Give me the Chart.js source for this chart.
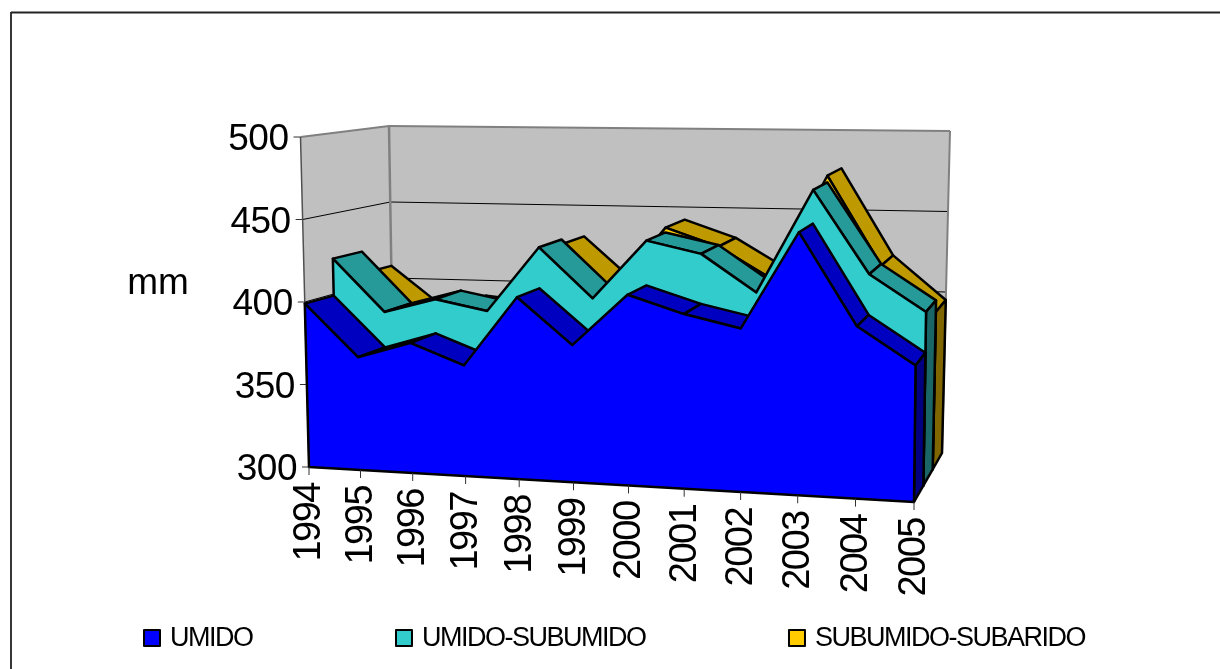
<!DOCTYPE html>
<html>
<head>
<meta charset="utf-8">
<style>html,body{margin:0;padding:0;background:#fff}canvas{display:block}</style>
<script src="https://cdn.jsdelivr.net/npm/chart.js@4/dist/chart.umd.min.js"></script>
</head>
<body>
<canvas id="c" width="1220" height="669"></canvas>
<script>
// Annual rainfall (mm) by climate zone
const years = ['1994','1995','1996','1997','1998','1999','2000','2001','2002','2003','2004','2005'];
const umido = [399,368,378,366,408,381,412,402,395,452,399,378];
const umidoSubumido = [422,390,399,393,433,403,439,432,410,472,423,402];
const subumidoSubarido = [408,384,390,387,430,402,442,431,412,476,422,395];
const valueTicks = [300,350,400,450,500];

const FONT = '"Liberation Sans", Arial, sans-serif';
const OUTLINE = '#000';
const OUTLINE_WIDTH = 2.5;
const WALL = '#c0c0c0';
const WALL_EDGE = '#808080';

// Screen corners of the plot box, indexed [depth][value][year]
const BOX = [
  [[[309,467],[914,502]], [[300.5,137],[918,152]]],
  [[[394,430],[942,453]], [[389,126],[950,131]]]
];
const FORESHORTEN = 0.07;
const lerp = (a,b,k) => a + (b-a)*k;

// Maps a position in the unit box (year, value, depth) onto the canvas
function project(u, t, d) {
  const s = u - FORESHORTEN*u*(1-u);
  const along = (dd,tt) => [0,1].map(i => lerp(BOX[dd][tt][0][i], BOX[dd][tt][1][i], s));
  const lo = [0,1].map(i => lerp(along(0,0)[i], along(1,0)[i], d));
  const hi = [0,1].map(i => lerp(along(0,1)[i], along(1,1)[i], d));
  return [lerp(lo[0],hi[0],t), lerp(lo[1],hi[1],t)];
}

function poly(ctx, pts, fill, stroke, width) {
  ctx.beginPath();
  pts.forEach((p,i) => i ? ctx.lineTo(p[0],p[1]) : ctx.moveTo(p[0],p[1]));
  ctx.closePath();
  if (fill) { ctx.fillStyle = fill; ctx.fill(); }
  if (stroke) { ctx.strokeStyle = stroke; ctx.lineWidth = width; ctx.stroke(); }
}

function segment(ctx, a, b, color, width) {
  ctx.beginPath();
  ctx.moveTo(a[0],a[1]);
  ctx.lineTo(b[0],b[1]);
  ctx.strokeStyle = color;
  ctx.lineWidth = width;
  ctx.stroke();
}

// Shoelace sum: negative when a top strip faces the viewer
function facesViewer(q) {
  let sum = 0;
  q.forEach((p,i) => { const n = q[(i+1)%q.length]; sum += p[0]*n[1] - n[0]*p[1]; });
  return sum < 0;
}

const box3d = {
  id: 'box3d',
  beforeDatasetsDraw(chart) {
    const ctx = chart.ctx, y = chart.scales.y, area = chart.chartArea;
    const tOf = v => (area.bottom - y.getPixelForValue(v)) / (area.bottom - area.top);
    ctx.save();
    ctx.lineJoin = 'round';

    // frame of the chart object
    segment(ctx, [11,12.5], [1220,12.5], '#222', 1.8);
    segment(ctx, [11,12], [11,669], '#222', 1.8);

    // side and back walls
    poly(ctx, [project(0,0,0),project(0,1,0),project(0,1,1),project(0,0,1)], WALL);
    poly(ctx, [project(0,0,1),project(0,1,1),project(1,1,1),project(1,0,1)], WALL);

    // gridlines running around the walls
    y.ticks.forEach(tk => {
      const t = tOf(tk.value);
      if (t <= 0 || t >= 1) return;
      segment(ctx, project(0,t,0), project(0,t,1), '#000', 1);
      segment(ctx, project(0,t,1), project(1,t,1), '#000', 1);
    });
    segment(ctx, project(0,1,0), project(0,1,1), WALL_EDGE, 2);
    segment(ctx, project(0,1,1), project(1,1,1), WALL_EDGE, 2);
    segment(ctx, project(0,1,1), project(0,0,1), WALL_EDGE, 2.5);
    segment(ctx, project(1,1,1), project(1,0,1), WALL_EDGE, 2);
    segment(ctx, project(0,1,0), project(0,0,0), '#505050', 1.5);

    // value axis: ticks and labels follow the leaning front edge
    ctx.font = '37px ' + FONT;
    ctx.letterSpacing = '-0.5px';
    ctx.textAlign = 'right';
    ctx.textBaseline = 'middle';
    ctx.fillStyle = '#000';
    y.ticks.forEach(tk => {
      const p = project(0, tOf(tk.value), 0);
      segment(ctx, [p[0]-7,p[1]], p, '#333', 1);
      ctx.fillText(String(tk.value), p[0]-12, p[1]+3);
    });
    ctx.textAlign = 'center';
    ctx.letterSpacing = '0px';
    ctx.fillText('mm', 158, 284);

    // series, back to front: top strips, end panel, then the front face
    const n = chart.data.datasets.length;
    for (let i = n-1; i >= 0; i--) {
      const ds = chart.data.datasets[i];
      const pts = chart.getDatasetMeta(i).data;
      const d0 = i/n, d1 = (i+1)/n;
      const us = pts.map(pt => (pt.x - area.left)/(area.right - area.left));
      const ts = pts.map(pt => (area.bottom - pt.y)/(area.bottom - area.top));
      for (let k = 0; k < pts.length-1; k++) {
        const q = [project(us[k],ts[k],d0), project(us[k+1],ts[k+1],d0),
                   project(us[k+1],ts[k+1],d1), project(us[k],ts[k],d1)];
        if (facesViewer(q)) poly(ctx, q, ds.stripColor, OUTLINE, OUTLINE_WIDTH);
      }
      const last = pts.length-1;
      poly(ctx, [project(1,0,d0),project(1,ts[last],d0),project(1,ts[last],d1),project(1,0,d1)],
           ds.endColor, OUTLINE, OUTLINE_WIDTH);
      const front = us.map((u,k) => project(u,ts[k],d0));
      front.push(project(1,0,d0), project(0,0,d0));
      poly(ctx, front, ds.backgroundColor, OUTLINE, OUTLINE_WIDTH);
    }

    // year labels and ticks hang below the sloping baseline
    const x = chart.scales.x;
    ctx.font = '38px ' + FONT;
    ctx.letterSpacing = '-1.5px';
    ctx.textAlign = 'right';
    ctx.textBaseline = 'middle';
    ctx.fillStyle = '#000';
    years.forEach((label,k) => {
      const u = (x.getPixelForValue(k) - area.left)/(area.right - area.left);
      const p = project(u,0,0);
      segment(ctx, p, [p[0],p[1]+8], '#333', 1);
      ctx.save();
      ctx.translate(p[0]+1, p[1]+16);
      ctx.rotate(-Math.PI/2);
      ctx.fillText(label, 0, 0);
      ctx.restore();
    });

    // legend row
    ctx.font = '27px ' + FONT;
    ctx.letterSpacing = '-1.5px';
    ctx.textAlign = 'left';
    let cursor = 144;
    chart.data.datasets.forEach(ds => {
      ctx.fillStyle = ds.backgroundColor;
      ctx.strokeStyle = OUTLINE;
      ctx.lineWidth = 2;
      ctx.fillRect(cursor, 630, 16, 16);
      ctx.strokeRect(cursor, 630, 16, 16);
      ctx.fillStyle = '#000';
      ctx.fillText(ds.label, cursor+26, 639);
      cursor += 26 + ctx.measureText(ds.label).width + 143.5;
    });
    ctx.restore();
  }
};

new Chart(document.getElementById('c'), {
  type: 'line',
  plugins: [box3d],
  data: {
    labels: years,
    datasets: [
      { label:'UMIDO', data:umido, backgroundColor:'#0000ff', stripColor:'#0000c0', endColor:'#000080', showLine:false, pointRadius:0 },
      { label:'UMIDO-SUBUMIDO', data:umidoSubumido, backgroundColor:'#33cccc', stripColor:'#269999', endColor:'#1a6666', showLine:false, pointRadius:0 },
      { label:'SUBUMIDO-SUBARIDO', data:subumidoSubarido, backgroundColor:'#ffcc00', stripColor:'#bf9900', endColor:'#806600', showLine:false, pointRadius:0 }
    ]
  },
  options: {
    responsive:false,
    animation:false,
    devicePixelRatio:1,
    layout:{ padding:{ left:300, right:300, top:137, bottom:202 } },
    plugins:{ legend:{display:false}, tooltip:{enabled:false} },
    scales:{
      x:{ display:false, offset:false },
      y:{ display:false, min:valueTicks[0], max:valueTicks[valueTicks.length-1], ticks:{stepSize:50} }
    }
  }
});
</script>
</body>
</html>
